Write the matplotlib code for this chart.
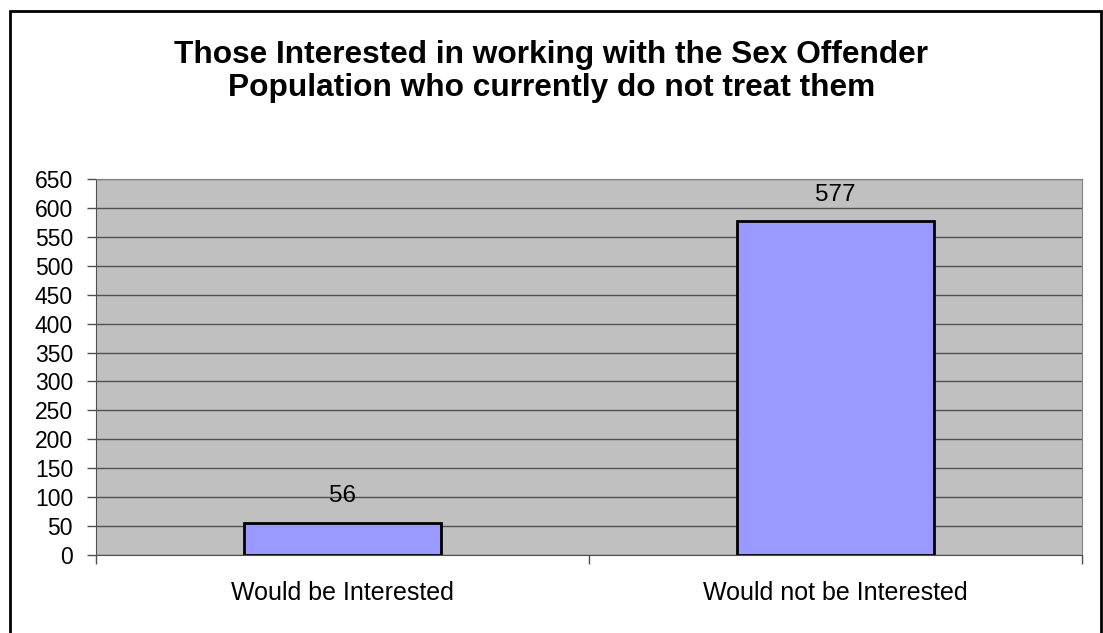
import matplotlib.pyplot as plt
import matplotlib.patches as patches
import numpy as np

categories = ["Would be Interested", "Would not be Interested"]
values = [56, 577]
y_ticks = np.arange(0, 651, 50)
title_lines = ["Those Interested in working with the Sex Offender",
               "Population who currently do not treat them"]

plt.rcParams['font.family'] = ['Liberation Sans', 'DejaVu Sans']

fig = plt.figure(figsize=(11.03, 6.33), dpi=100)
ax = fig.add_axes([0.0870, 0.1232, 0.894, 0.594])

x = np.arange(len(categories))
ax.set_facecolor('#C0C0C0')
ax.set_axisbelow(True)
ax.yaxis.grid(True, color='#505050', linewidth=1)
bars = ax.bar(x, values, width=0.4, color='#9999FF', edgecolor='black', linewidth=2, zorder=3)

for b, v in zip(bars, values):
    ax.annotate(str(v), (b.get_x() + b.get_width() / 2, v), xytext=(0, 14.5),
                textcoords='offset points', ha='center', va='baseline', fontsize=17.5)

ax.set_xlim(-0.5, len(categories) - 0.5)
ax.set_ylim(0, 650)
ax.set_yticks(y_ticks)
ax.tick_params(axis='y', labelsize=16.5, length=6.5, width=1, color='#505050', pad=10)
ax.set_xticks(x)
ax.set_xticklabels(categories, fontsize=18)
ax.set_xticks(np.arange(-0.5, len(categories), 1.0), minor=True)
ax.tick_params(axis='x', which='major', length=0, pad=19)
ax.tick_params(axis='x', which='minor', length=6.5, width=1, color='#505050')

for s in ['top', 'right']:
    ax.spines[s].set_color('#808080')
for s in ['left', 'bottom']:
    ax.spines[s].set_color('#505050')

# title: two lines placed by baseline
for line, ypx in zip(title_lines, [63, 96]):
    fig.text(0.5, 1 - ypx / 633, line, ha='center', va='baseline', fontsize=22.8,
             fontweight='bold')

border = patches.Rectangle((10 / 1103, -0.02), 1091 / 1103, 1 - 11 / 633 + 0.02,
                           transform=fig.transFigure, fill=False, edgecolor='black',
                           linewidth=2, clip_on=False)
fig.patches.append(border)

plt.savefig("out.png", dpi=100)
